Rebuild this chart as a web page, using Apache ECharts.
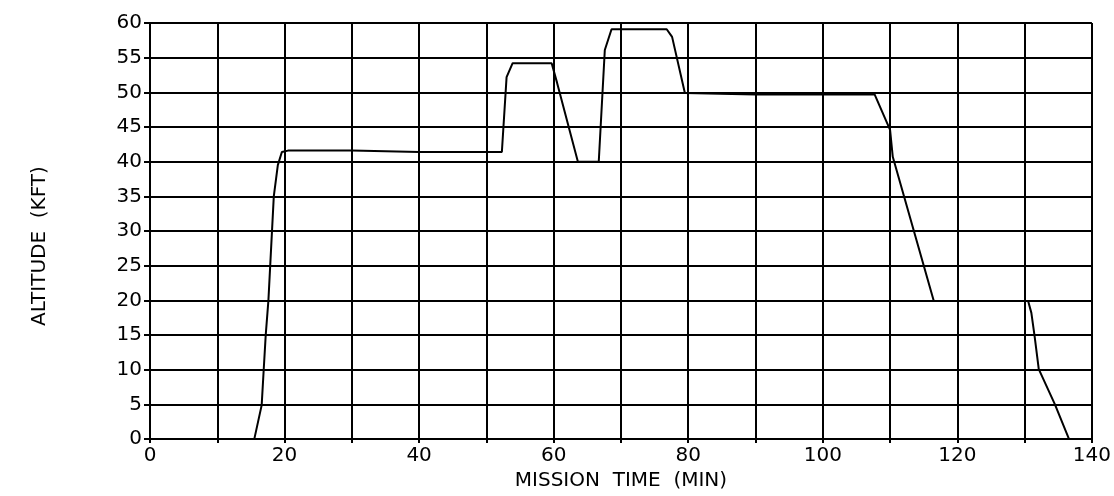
<!DOCTYPE html>
<html>
<head>
<meta charset="utf-8">
<script src="https://cdn.jsdelivr.net/npm/echarts@6/dist/echarts.min.js"></script>
<style>html,body{margin:0;padding:0;background:#fff}#c{width:1114px;height:496px}</style>
</head>
<body>
<div id="c"></div>
<script>
// Mission time (min) and altitude (kft); null marks the gap in the trace
const missionTime = [15.5, 16.6, 16.9, 17.2, 17.6, 18.4, 19.0, 19.6, 20.5, 30, 40, 52.3, 53.0, 53.9, 59.7, 60.5, 63.6, 66.7, 67.6, 68.6, 76.8, 77.6, 79.5, 90, 100, 107.7, 110.0, 110.4, 116.5, 123, 130.5, 131.0, 131.5, 132.1, 134.5, 136.6];
const altitude    = [0,    4.9,  10,   15,   20,   35,   39.5, 41.4, 41.6, 41.6, 41.4, 41.4, 52.2, 54.2, 54.2, 51.4, 40,   40,   56.1, 59.1, 59.1, 58,   49.9, 49.7, 49.7, 49.7, 44.6, 40.7, 19.9, null, 20,   18.2, 14.7, 10.1, 5,    0];
const xTickLabels = [0, 20, 40, 60, 80, 100, 120, 140];
const yTickLabels = [0, 5, 10, 15, 20, 25, 30, 35, 40, 45, 50, 55, 60];

const chart = echarts.init(document.getElementById('c'), null, {renderer: 'canvas'});
const fontFam = 'DejaVu Sans';
chart.setOption({
  animation: false,
  backgroundColor: '#fff',
  grid: {left: 150, right: 21, top: 23, bottom: 56},
  xAxis: {
    type: 'value', min: 0, max: 140, interval: 10,
    name: 'MISSION  TIME  (MIN)', nameLocation: 'middle', nameGap: 27,
    nameTextStyle: {color: '#000', fontSize: 20, fontFamily: fontFam},
    axisLine: {show: true, lineStyle: {color: '#000', width: 2}},
    axisTick: {show: true, length: 4, lineStyle: {color: '#000', width: 2}},
    axisLabel: {color: '#000', fontSize: 20, fontFamily: fontFam, margin: 7,
      formatter: v => xTickLabels.includes(v) ? String(v) : ''},
    splitLine: {show: true, lineStyle: {color: '#000', width: 2}}
  },
  yAxis: {
    type: 'value', min: 0, max: 60, interval: 5,
    name: 'ALTITUDE  (KFT)', nameLocation: 'middle', nameGap: 100,
    nameTextStyle: {color: '#000', fontSize: 20, fontFamily: fontFam, padding: [0, 30, 0, 0]},
    axisLine: {show: true, lineStyle: {color: '#000', width: 2}},
    axisTick: {show: true, length: 6, lineStyle: {color: '#000', width: 2}},
    axisLabel: {color: '#000', fontSize: 20, fontFamily: fontFam, margin: 8,
      formatter: v => yTickLabels.includes(v) ? String(v) : ''},
    splitLine: {show: true, lineStyle: {color: '#000', width: 2}}
  },
  series: [{
    type: 'line',
    data: missionTime.map((t, i) => [t, altitude[i]]),
    showSymbol: false,
    connectNulls: false,
    lineStyle: {color: '#000', width: 2},
    z: 5
  }]
});
</script>
</body>
</html>
